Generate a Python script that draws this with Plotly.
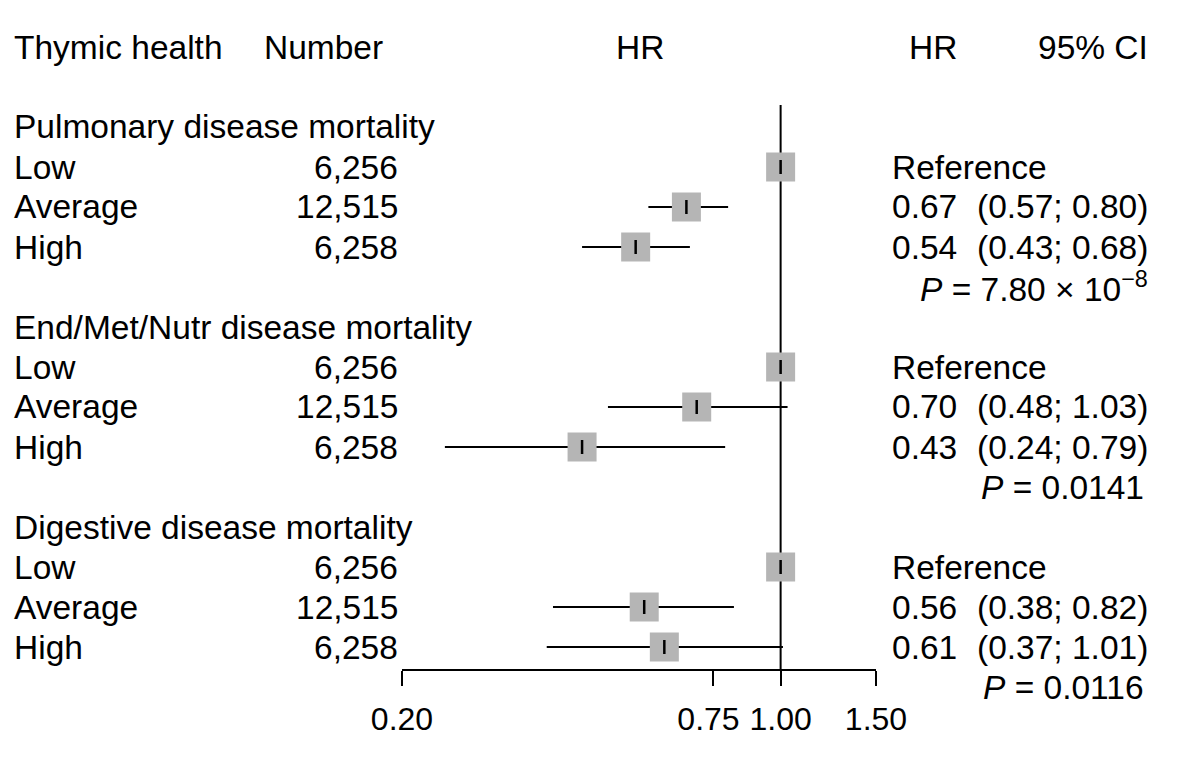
import math
import plotly.graph_objects as go

# ---------------- data ----------------
header_left = ["Thymic health", "Number"]
header_mid = "HR"
header_right = ["HR", "95% CI"]
groups = ["Pulmonary disease mortality", "End/Met/Nutr disease mortality", "Digestive disease mortality"]
levels = ["Low", "Average", "High"]
numbers = ["6,256", "12,515", "6,258"]
hr = [[1.00, 0.67, 0.54], [1.00, 0.70, 0.43], [1.00, 0.56, 0.61]]
ci_lo = [[None, 0.57, 0.43], [None, 0.48, 0.24], [None, 0.38, 0.37]]
ci_hi = [[None, 0.80, 0.68], [None, 1.03, 0.79], [None, 0.82, 1.01]]
p_text = ["<i>P</i> = 7.80 × 10<sup>−8</sup>", "<i>P</i> = 0.0141", "<i>P</i> = 0.0116"]
tick_vals = [0.20, 0.75, 1.00, 1.50]
tick_text = ["0.20", "0.75\u00a0", "1.00", "1.50"]

# ---------------- layout helpers ----------------
OFF = 8                       # page body margin of the html page
W, H = 1199 - OFF, 759 - OFF
ROW0, PITCH = 47, 40          # screen pixel centre of row 0, row pitch
AX_Y = 669                    # screen pixel of the x axis line
X0PX, X1PX = 402, 876         # screen pixel span of the HR axis
FONT = "Liberation Sans, Arial, Helvetica, sans-serif"
FS = 33.5
TFS = 32


def px2row(p):
    return (p - ROW0) / PITCH


def px2paper(p):
    return (p - OFF) / W


def row2paper(r):
    return 1 - (ROW0 + PITCH * r - OFF) / H


fig = go.Figure()

# reference line at HR = 1
fig.add_trace(go.Scatter(x=[1, 1], y=[px2row(105), px2row(AX_Y)], mode="lines",
                         line=dict(color="black", width=2), hoverinfo="skip", showlegend=False,
                         cliponaxis=False))

rows_est, x_est = [], []
ci_x, ci_y = [], []
annots = []


def ann(text, xpx, row, anchor="left"):
    annots.append(dict(text=text, x=px2paper(xpx), y=row2paper(row), xref="paper", yref="paper",
                       xanchor=anchor, yanchor="middle", showarrow=False,
                       font=dict(family=FONT, size=FS, color="black")))


# headers
ann(header_left[0], 12, 0)
ann(header_left[1], 262, 0)
ann(header_mid, 640, 0, "center")
ann(header_right[0], 933, 0, "center")
ann(header_right[1], 1150, 0, "right")

for g, gname in enumerate(groups):
    base = 2 + 5 * g
    ann(gname, 12, base)
    for i, lev in enumerate(levels):
        r = base + 1 + i
        ann(lev, 12, r)
        ann(numbers[i], 400, r, "right")
        rows_est.append(r)
        x_est.append(hr[g][i])
        if ci_lo[g][i] is None:
            ann("Reference", 890, r)
        else:
            ci_x += [ci_lo[g][i], ci_hi[g][i], None]
            ci_y += [r, r, None]
            ann(f"{hr[g][i]:.2f}", 890, r)
            ann(f"({ci_lo[g][i]:.2f}; {ci_hi[g][i]:.2f})", 1150, r, "right")
    ann(p_text[g], 1150 if g == 0 else 1146, base + 4, "right")

fig.add_trace(go.Scatter(x=ci_x, y=ci_y, mode="lines", line=dict(color="black", width=2),
                         hoverinfo="skip", showlegend=False, cliponaxis=False))
fig.add_trace(go.Scatter(x=x_est, y=rows_est, mode="markers",
                         marker=dict(symbol="square", size=29, color="#b5b5b5", line=dict(width=0)),
                         hoverinfo="skip", showlegend=False, cliponaxis=False))
fig.add_trace(go.Scatter(x=x_est, y=rows_est, mode="markers",
                         marker=dict(symbol="line-ns", size=10, line=dict(width=2.5, color="black")),
                         hoverinfo="skip", showlegend=False, cliponaxis=False))

fig.update_layout(
    width=W, height=H, margin=dict(l=0, r=0, t=0, b=0, pad=0), autosize=False,
    paper_bgcolor="white", plot_bgcolor="white",
    annotations=annots,
    font=dict(family=FONT, size=FS, color="black"),
    xaxis=dict(type="log", domain=[px2paper(X0PX), px2paper(X1PX)],
               range=[math.log10(0.2), math.log10(1.5)], automargin=False,
               tickvals=tick_vals, ticktext=tick_text, tickangle=0, ticks="outside", ticklen=15,
               tickwidth=2, tickcolor="black", showline=True, linewidth=2, linecolor="black",
               showgrid=False, zeroline=False, ticklabelstandoff=6,
               tickfont=dict(family=FONT, size=TFS, color="black")),
    yaxis=dict(visible=False, domain=[(H - (AX_Y - OFF)) / H, 1], automargin=False,
               range=[px2row(AX_Y), px2row(OFF)], showgrid=False, zeroline=False),
)

fig.write_html("out.html", config={"responsive": False})
